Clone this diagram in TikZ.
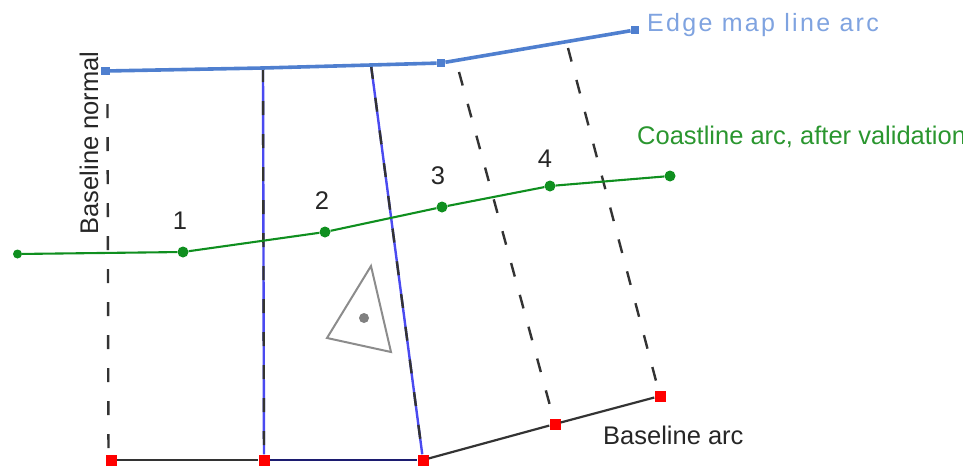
\documentclass[tikz,border=0pt]{standalone}
\usepackage{fontspec}
\setmainfont{Liberation Sans}
\definecolor{edgeblue}{HTML}{4F7FCF}
\definecolor{edgetext}{HTML}{7FA3E0}
\definecolor{coast}{HTML}{0F8F1F}
\definecolor{coasttext}{HTML}{2A962F}
\definecolor{purelink}{HTML}{4A4AF0}
\definecolor{linedark}{HTML}{333333}
\definecolor{navy}{HTML}{1C1C70}
\tikzset{
 redpt/.style={rectangle,fill=red,minimum size=11pt,inner sep=0pt},
 bluept/.style={rectangle,fill=edgeblue,minimum size=8.5pt,inner sep=0pt},
 greenpt/.style={circle,fill=coast,minimum size=11pt,inner sep=0pt},
 numlab/.style={font=\fontsize{25.5}{27}\selectfont,text=black!85,inner sep=0pt},
 normalline/.style={linedark,line width=2.4pt,dash pattern=on 14pt off 19pt},
 basearc/.style={linedark,line width=2.2pt},
 edgearc/.style={edgeblue,line width=3.6pt},
 coastarc/.style={coast,line width=2.1pt},
 bluelink/.style={purelink,line width=2.4pt},
}
\begin{document}
\begin{tikzpicture}[x=1pt,y=-1pt]
\useasboundingbox (0,0) rectangle (971,466);
\node[redpt] (r1) at (111,460) {};
\node[redpt] (r2) at (264,460) {};
\node[redpt] (r3) at (423,460) {};
\node[redpt] (r4) at (555,424) {};
\node[redpt] (r5) at (660,396) {};
\node[bluept] (b1) at (105.5,71) {};
\coordinate (b2) at (263,68);
\coordinate (b3) at (371,65);
\node[bluept] (b4) at (441,63) {};
\node[bluept] (b5) at (635,30) {};
\coordinate (n1) at (107.5,104);
\coordinate (n1b) at (108.5,458);
\coordinate (n4) at (459,72);
\coordinate (n5) at (568,48);
\node[greenpt,minimum size=9pt] (g0) at (17.5,254) {};
\node[greenpt] (g1) at (183,252) {};
\node[greenpt] (g2) at (325,232) {};
\node[greenpt] (g3) at (442,207) {};
\node[greenpt] (g4) at (550,186) {};
\node[greenpt] (g5) at (670,176) {};
\draw[bluelink] (b2) -- (r2);
\draw[bluelink] (b3) -- (r3);
\draw[normalline] (b2) -- (r2);
\draw[normalline] (b3) -- (r3);
\draw[normalline] (n1) -- (n1b);
\draw[normalline] (n4) -- (r4);
\draw[normalline] (n5) -- (r5);
\draw[basearc] (r1) -- (r2);
\draw[navy,line width=2.6pt] (r2) -- (r3);
\draw[basearc] (r3) -- (r4) -- (r5);
\draw[edgearc] (b1) -- (b2) -- (b3) -- (b4) -- (b5);
\draw[coastarc] (g0) -- (g1) -- (g2) -- (g3) -- (g4) -- (g5);
\coordinate (t1) at (371,266);
\coordinate (t2) at (327,338);
\coordinate (t3) at (391,352);
\draw[black!45,line width=2pt] (t1) -- (t2) -- (t3) -- cycle;
\node[circle,fill=black!50,minimum size=10pt,inner sep=0pt] (dot) at (364,318) {};
\node[numlab] (l1) at (180,221) {1};
\node[numlab] (l2) at (322,201) {2};
\node[numlab] (l3) at (438,176) {3};
\node[numlab] (l4) at (545,159) {4};
\node[numlab,rotate=90] (bn) at (89,143) {Baseline normal};
\node[numlab,anchor=west] (ba) at (603,435) {Baseline arc};
\begin{scope}
\clip (0,0) rectangle (962,466);
\node[numlab,anchor=west,text=coasttext] (ca) at (637,137) {Coastline arc, after validation};
\end{scope}
\node[anchor=west,inner sep=0pt,text=edgetext,font=\fontsize{25}{27}\selectfont\addfontfeatures{LetterSpace=9.3}] (em) at (647,25) {Edge map line arc};
\end{tikzpicture}
\end{document}
